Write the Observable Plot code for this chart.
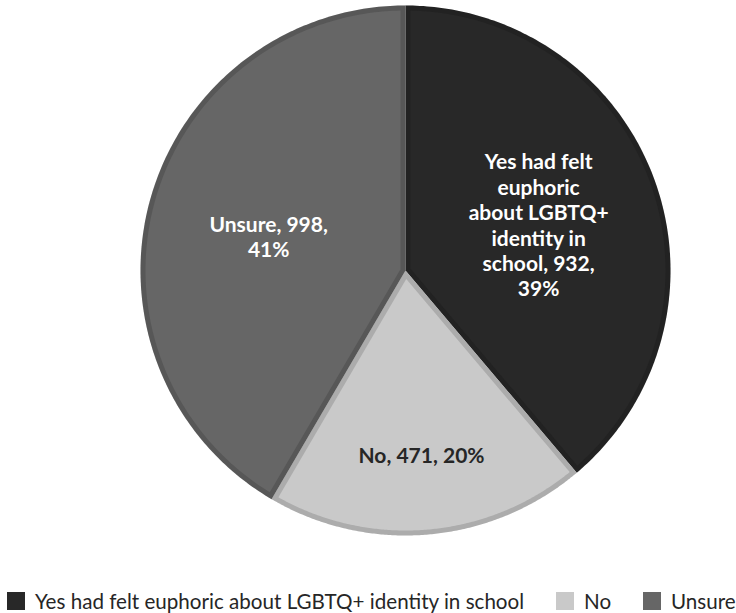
<!DOCTYPE html>
<html>
<head>
<meta charset="utf-8">
<script src="https://cdn.jsdelivr.net/npm/d3@7"></script>
<script src="https://cdn.jsdelivr.net/npm/@observablehq/plot@0.6"></script>
<style>
  body { margin: 0; background: #fff; }
  #chart { position: relative; width: 736px; height: 613px; overflow: hidden; }
  #legend { position: relative; width: 736px; height: 68px; font-family: Lato, sans-serif; color: #262626; }
  .li { position: absolute; top: 47px; height: 18px; display: flex; align-items: center; white-space: nowrap; font-size: 20.6px; line-height: 18px; }
  .sw { width: 18px; height: 18px; margin-right: 10px; flex: none; }
</style>
</head>
<body>
<div id="chart"></div>
<script>
// ---- data ----
const categories = ["Yes had felt euphoric about LGBTQ+ identity in school", "No", "Unsure"];
const values = [932, 471, 998];
const percents = [39, 20, 41];
const labelNames = ["Yes had felt\neuphoric\nabout LGBTQ+\nidentity in\nschool", "No", "Unsure"];
const labelBreaks = [",\n", ", ", ",\n"];
const colors = ["#282828", "#c9c9c9", "#666666"];
const legendX = [7, 556, 643];

const data = categories.map((c, i) => ({category: c, value: values[i], pct: percents[i], name: labelNames[i], brk: labelBreaks[i]}));
const arcs = d3.pie().sort(null).value(d => d.value)(data);

const R = 1, border = 5 / 265;
function sector(a0, a1, inset) {
  const th = a1 - a0, mid = (a0 + a1) / 2;
  const apexR = inset > 0 ? inset / Math.sin(th / 2) : 0;
  const apex = [apexR * Math.sin(mid), -apexR * Math.cos(mid)];
  const r = R - inset;
  const da = inset > 0 ? Math.asin(inset / r) : 0;
  const n = 180, pts = [apex];
  for (let i = 0; i <= n; i++) {
    const a = a0 + da + (th - 2 * da) * i / n;
    pts.push([r * Math.sin(a), -r * Math.cos(a)]);
  }
  pts.push(apex);
  return pts;
}
const full = arcs.map(a => ({type: "Feature", properties: a.data, geometry: {type: "Polygon", coordinates: [sector(a.startAngle, a.endAngle, 0)]}}));
const inner = arcs.map(a => ({type: "Feature", properties: a.data, geometry: {type: "Polygon", coordinates: [sector(a.startAngle, a.endAngle, border)]}}));

const labels = arcs.map(a => {
  const mid = (a.startAngle + a.endAngle) / 2;
  const share = (a.endAngle - a.startAngle) / (2 * Math.PI);
  const f = share < 0.25 ? 0.70 : 0.535;
  const light = d3.lab(colors[a.index]).l > 60;
  return {x: f * Math.sin(mid), y: -f * Math.cos(mid), text: `${a.data.name}, ${a.data.value}${a.data.brk}${a.data.pct}%`, dark: light};
});

const chart = Plot.plot({
  width: 736,
  height: 545,
  marginLeft: 140,
  marginRight: 66,
  marginTop: 5,
  marginBottom: 10,
  projection: {type: "identity", domain: {type: "MultiPoint", coordinates: [[-1, -1], [1, 1]]}},
  color: {domain: categories, range: colors},
  style: {background: "white"},
  marks: [
    Plot.geo(full, {fill: d => d.properties.category}),
    Plot.geo(full, {fill: "black", fillOpacity: 0.14}),
    Plot.geo(inner, {fill: d => d.properties.category}),
    Plot.text(labels.filter(d => !d.dark), {x: "x", y: "y", dy: 3, text: "text", fill: "white", fontFamily: "Lato", fontWeight: "bold", fontSize: 21, lineHeight: 1.21}),
    Plot.text(labels.filter(d => d.dark), {x: "x", y: "y", text: "text", fill: "#262626", fontFamily: "Lato", fontWeight: "bold", fontSize: 21, lineHeight: 1.21})
  ]
});
document.getElementById("chart").appendChild(chart);

const legend = document.createElement("div");
legend.id = "legend";
categories.forEach((c, i) => {
  const item = document.createElement("div");
  item.className = "li";
  item.style.left = legendX[i] + "px";
  const sw = document.createElement("div");
  sw.className = "sw";
  sw.style.background = colors[i];
  const t = document.createElement("span");
  t.textContent = c;
  item.appendChild(sw); item.appendChild(t);
  legend.appendChild(item);
});
document.getElementById("chart").appendChild(legend);
</script>
</body>
</html>
